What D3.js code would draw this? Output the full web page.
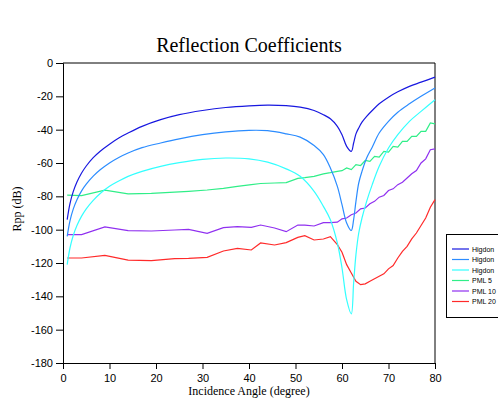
<!DOCTYPE html>
<html><head><meta charset="utf-8">
<script src="https://cdn.jsdelivr.net/npm/d3@7"></script>
<style>body{margin:0;background:#fff;overflow:hidden}svg{display:block}</style>
</head><body><svg id="c" width="498" height="402"></svg>
<script>
const higdonAngles = [0.9,1.5,2.2,3,4,5,6.5,8,10,12,14,17,21,25,30,35,40,44,48,51,54,56,57.5,59,60,61,62,62.5,63,63.6,64.3,65.3,66.5,68,70,72,74.5,77,80];
const higdon1 = [-94,-84.4,-77.2,-71.4,-66,-61.8,-56.8,-52.9,-48.7,-45,-42,-38,-34,-31,-28.5,-26.7,-25.7,-25.3,-25.6,-26.5,-28.5,-31,-33.5,-38,-43,-50,-53,-48,-42.5,-39,-35.5,-32,-28.5,-24.5,-20.5,-17.3,-14,-11.5,-8.5];
const higdon2 = [-104,-94.7,-87.7,-82,-76.7,-72.7,-67.9,-64.1,-60,-56.7,-54,-50.8,-48,-45.5,-43,-41.3,-40.4,-40.6,-42.5,-44.5,-49.5,-55,-63,-74,-85,-96,-100.5,-94,-83,-72,-65,-57,-50.5,-42,-35,-29.5,-24.5,-20,-15];
const higdon3 = [-121,-111,-103.5,-97.5,-91.9,-87.5,-82.4,-78.3,-74,-70.8,-68,-65,-62,-59.8,-57.8,-57,-57.5,-59.5,-63.5,-68,-77,-86,-94,-108,-123,-142,-150.5,-132,-115,-102,-93,-83,-73,-62,-51,-43,-35,-29,-22];
const pmlAngles = [0.9,4,9,14,19,24,27,31,34.5,37.5,40.5,42.5,45.5,48,50.5,52,54,56,57.5,59,60,61,62,63,64,65,66,67,68,69,70,71,72,73,74,75,76,77,78,79,80];
const pml5 = [-79.3,-79.6,-76.3,-78.5,-78.2,-77.5,-77,-76.2,-75.2,-74,-73,-72.3,-72,-71.8,-69.2,-68.8,-68,-66.5,-65.8,-65,-64.6,-63,-64,-61,-61.5,-58.5,-59,-56,-56.5,-53,-53.5,-50,-50.5,-47,-47,-44,-44,-41,-41,-36,-36.5];
const pml10 = [-103,-103,-98.3,-100.6,-100.8,-100.2,-99.8,-102.2,-98.8,-98.2,-98.6,-97.2,-99,-101.2,-97.2,-97.3,-97.8,-95.8,-95.8,-95.5,-93.5,-93,-91,-90,-87.5,-87,-84.5,-83,-80.5,-79.5,-76.5,-75.5,-73,-71.5,-69,-66.5,-64.5,-60,-57.5,-52,-51.5];
const pml20 = [-117,-117,-115.4,-118.3,-118.6,-117.4,-117.2,-116.6,-112.8,-111.2,-112.2,-108,-109.2,-107.8,-104.6,-103.6,-106.2,-105.6,-104.2,-109,-113.5,-121,-126,-131,-133,-132.5,-131,-129.5,-128,-126.5,-123.5,-121.5,-117,-113,-110,-105.5,-102,-97.5,-93,-86.5,-82];
const seriesNames = ["Higdon","Higdon","Higdon","PML 5","PML 10","PML 20"];
const seriesColors = ["#1818e0","#2b8cff","#33ffff","#30ee88","#9030f0","#ff2a2a"];
const xTicks = [0,10,20,30,40,50,60,70,80];
const yTicks = [0,-20,-40,-60,-80,-100,-120,-140,-160,-180];

const svg = d3.select("#c");
const L=63, R=435, T=63, B=363;
const x = d3.scaleLinear().domain([0,80]).range([L,R]);
const y = d3.scaleLinear().domain([-180,0]).range([B,T]);

svg.append("text").attr("x",249).attr("y",52).attr("text-anchor","middle")
  .attr("font-family","Liberation Serif, Times New Roman, serif").attr("font-size",20).text("Reflection Coefficients");

svg.append("path").attr("d",`M${L},${T}H${R}V${B}`).attr("fill","none").attr("stroke","#000").attr("stroke-width",1);

const series = [
  {a:higdonAngles,v:higdon1,curve:d3.curveCatmullRom.alpha(0.5)},
  {a:higdonAngles,v:higdon2,curve:d3.curveCatmullRom.alpha(0.5)},
  {a:higdonAngles,v:higdon3,curve:d3.curveCatmullRom.alpha(0.5)},
  {a:pmlAngles,v:pml5,curve:d3.curveLinear},
  {a:pmlAngles,v:pml10,curve:d3.curveLinear},
  {a:pmlAngles,v:pml20,curve:d3.curveLinear}
];
[5,4,3,2,1,0].forEach(i=>{
  const s=series[i];
  const line=d3.line().x((d,j)=>x(s.a[j])).y(d=>y(d)).curve(s.curve);
  svg.append("path").datum(s.v).attr("d",line).attr("fill","none")
    .attr("stroke",seriesColors[i]).attr("stroke-width",1.2);
});

const xa = svg.append("g").attr("transform",`translate(0,${B})`)
  .call(d3.axisBottom(x).tickValues(xTicks).tickSize(6).tickPadding(5).tickFormat(d3.format("d")));
const ya = svg.append("g").attr("transform",`translate(${L},0)`)
  .call(d3.axisLeft(y).tickValues(yTicks).tickSize(7).tickPadding(3).tickFormat(d=>String(d)));
[xa,ya].forEach(g=>{
  g.select(".domain").attr("stroke","#000");
  g.selectAll("text").attr("font-family","Liberation Sans, Arial, sans-serif").attr("font-size",11).attr("fill","#000");
  g.selectAll("line").attr("stroke","#000");
});

svg.append("text").attr("x",249).attr("y",395).attr("text-anchor","middle")
  .attr("font-family","Liberation Serif, Times New Roman, serif").attr("font-size",12).text("Incidence Angle (degree)");
svg.append("text").attr("transform","translate(21,209) rotate(-90)").attr("text-anchor","middle")
  .attr("font-family","Liberation Serif, Times New Roman, serif").attr("font-size",12).text("Rpp (dB)");

const lg = svg.append("g");
lg.append("rect").attr("x",446.5).attr("y",234.5).attr("width",80).attr("height",83)
  .attr("fill","#fff").attr("stroke","#000").attr("stroke-width",1);
seriesNames.forEach((n,i)=>{
  const yy = 249 + i*10.5;
  lg.append("line").attr("x1",452).attr("x2",469).attr("y1",yy).attr("y2",yy)
    .attr("stroke",seriesColors[i]).attr("stroke-width",1.2);
  lg.append("text").attr("x",472).attr("y",yy+2.5).attr("font-family","Liberation Sans, Arial, sans-serif")
    .attr("font-size",7).text(n);
});
</script></body></html>
